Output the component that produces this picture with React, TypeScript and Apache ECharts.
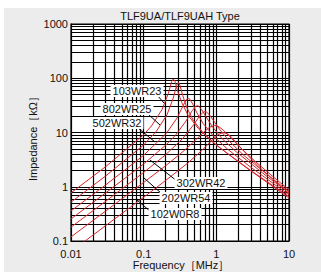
import React, { useEffect, useRef } from "react";
import * as echarts from "echarts";

// Tick labels
const xTickLabels = ["0.01", "0.1", "1", "10"];
const yTickLabels = ["0.1", "1", "10", "100", "1000"];
const xDecades = [0.01, 0.1, 1, 10];
const yDecades = [0.1, 1, 10, 100, 1000];
const minorSteps = [2, 3, 4, 5, 6, 7, 8, 9];

// Curves: frequency [MHz] and impedance [kΩ]
const c1Name = "103WR23";
const c1F = [0.01, 0.03, 0.1, 0.128, 0.179, 0.218, 0.243, 0.256, 0.269, 0.294, 0.333, 0.41, 0.563, 0.896, 1.81, 3, 10];
const c1Z = [0.77, 2.35, 9.1, 13.2, 26.5, 52, 87, 97, 88, 58, 36, 20.6, 11.9, 6.6, 3.2, 1.95, 0.62];

const c2Name = "802WR25";
const c2F = [0.01, 0.03, 0.1, 0.15, 0.21, 0.255, 0.285, 0.3, 0.315, 0.345, 0.39, 0.48, 0.66, 1.05, 3, 10];
const c2Z = [0.52, 1.58, 5.9, 10.6, 21.4, 43, 74, 84, 75, 48, 29.3, 16.9, 9.8, 5.55, 1.98, 0.66];

const c3Name = "502WR32";
const c3F = [0.01, 0.03, 0.1, 0.206, 0.288, 0.349, 0.39, 0.411, 0.432, 0.473, 0.534, 0.658, 0.904, 1.44, 3, 10];
const c3Z = [0.358, 1.08, 3.8, 9.7, 18.5, 31.3, 40.9, 42.6, 41.1, 33.4, 23.8, 14.7, 8.7, 4.87, 2.27, 0.71];

const c4Name = "302WR42";
const c4F = [0.01, 0.03, 0.1, 0.2, 0.274, 0.383, 0.465, 0.52, 0.547, 0.574, 0.629, 0.711, 0.875, 1.2, 1.92, 5, 10];
const c4Z = [0.255, 0.77, 2.63, 5.8, 8.9, 16.3, 25.2, 30.4, 31.2, 30.5, 26.4, 20.1, 13, 7.7, 4.3, 1.54, 0.765];

const c5Name = "202WR54";
const c5F = [0.01, 0.03, 0.1, 0.2, 0.349, 0.489, 0.593, 0.663, 0.698, 0.733, 0.803, 0.907, 1.12, 1.54, 2.44, 5, 10];
const c5Z = [0.18, 0.54, 1.84, 3.87, 7.9, 14, 20.4, 23.8, 24.2, 23.8, 21.2, 16.8, 11.2, 6.7, 3.7, 1.69, 0.81];

const c6Name = "102W0R8";
const c6F = [0.01, 0.03, 0.1, 0.2, 0.35, 0.475, 0.665, 0.808, 0.95, 1.09, 1.235, 1.52, 2.09, 3.33, 6, 10];
const c6Z = [0.119, 0.357, 1.2, 2.43, 4.48, 6.5, 10, 12.5, 13.5, 12.7, 11.2, 8.45, 5.4, 3.04, 1.54, 0.875];

const c7Name = "curve7";
const c7F = [0.01, 0.03, 0.1, 0.2, 0.4, 0.625, 0.875, 1.06, 1.25, 1.44, 1.63, 2, 2.75, 4.38, 10];
const c7Z = [0.064, 0.192, 0.64, 1.3, 2.7, 4.6, 7.2, 9.2, 10, 9.35, 8.1, 5.9, 3.7, 2, 0.75];

const curves = [
  { name: c1Name, f: c1F, z: c1Z },
  { name: c2Name, f: c2F, z: c2Z },
  { name: c3Name, f: c3F, z: c3Z },
  { name: c4Name, f: c4F, z: c4Z },
  { name: c5Name, f: c5F, z: c5Z },
  { name: c6Name, f: c6F, z: c6Z },
  { name: c7Name, f: c7F, z: c7Z },
];

const FONT = '"Liberation Sans", Arial, Helvetica, sans-serif';
const RED = "#d8262c";

function nearestLabel(v: number, decades: number[], labels: string[]) {
  let best = 0;
  let bd = Infinity;
  decades.forEach((d, i) => {
    const diff = Math.abs(Math.log10(v) - Math.log10(d));
    if (diff < bd) {
      bd = diff;
      best = i;
    }
  });
  return bd < 0.01 ? labels[best] : "";
}

export default function App() {
  const ref = useRef<HTMLDivElement>(null);
  useEffect(() => {
    if (!ref.current) return;
    const chart = echarts.init(ref.current, undefined, { renderer: "svg" });

    const xGrid: number[] = [];
    xDecades.forEach((d, i) => {
      xGrid.push(d);
      if (i < xDecades.length - 1) minorSteps.forEach((m) => xGrid.push(d * m));
    });
    const yGrid: number[] = [];
    yDecades.forEach((d, i) => {
      yGrid.push(d);
      if (i < yDecades.length - 1) minorSteps.forEach((m) => yGrid.push(d * m));
    });

    const labelStyle = (text: string, x: number, y: number) => ({
      type: "text",
      z: 100,
      style: {
        text,
        x,
        y,
        fill: "#111",
        font: `11px ${FONT}`,
        align: "center",
        verticalAlign: "middle",
        backgroundColor: "#fff",
        padding: [1, 2, 0, 2],
      },
    });
    const leader = (x1: number, y1: number, x2: number, y2: number) => ({
      type: "line",
      z: 99,
      shape: { x1, y1, x2, y2 },
      style: { stroke: "#000", lineWidth: 1 },
    });

    chart.setOption({
      animation: false,
      backgroundColor: "transparent",
      grid: {
        left: 71,
        right: 32,
        top: 24,
        bottom: 31,
        show: true,
        backgroundColor: "#fff",
        borderColor: "#000",
        borderWidth: 1.2,
      },
      xAxis: {
        type: "log",
        logBase: 10,
        min: 0.01,
        max: 10,
        axisLine: { show: true, lineStyle: { color: "#000" } },
        axisTick: { show: false },
        splitLine: { show: false },
        axisLabel: {
          color: "#111",
          fontSize: 11,
          fontFamily: FONT,
          margin: 7,
          formatter: (v: number) => nearestLabel(v, xDecades, xTickLabels),
        },
      },
      yAxis: {
        type: "log",
        logBase: 10,
        min: 0.1,
        max: 1000,
        axisLine: { show: true, lineStyle: { color: "#000" } },
        axisTick: { show: false },
        splitLine: { show: false },
        axisLabel: {
          color: "#111",
          fontSize: 11,
          fontFamily: FONT,
          margin: 3,
          formatter: (v: number) => nearestLabel(v, yDecades, yTickLabels),
        },
      },
      series: [
        {
          type: "line",
          name: "grid",
          z: 1,
          data: [[0.01, 0.1]],
          showSymbol: false,
          symbol: "none",
          lineStyle: { opacity: 0 },
          silent: true,
          markLine: {
            silent: true,
            symbol: ["none", "none"],
            label: { show: false },
            lineStyle: { color: "#000", width: 1.2, type: "solid" },
            emphasis: { disabled: true },
            data: [
              ...xGrid.map((v) => ({ xAxis: v })),
              ...yGrid.map((v) => ({ yAxis: v })),
            ],
          },
        },
        ...curves.map((c) => ({
          type: "line",
          name: c.name,
          z: 5,
          data: c.f.map((f, i) => [f, c.z[i]]),
          showSymbol: false,
          symbol: "none",
          smooth: false,
          clip: true,
          lineStyle: { color: RED, width: 1 },
        })),
      ],
      graphic: [
        {
          type: "text",
          z: 100,
          style: {
            text: "TLF9UA/TLF9UAH Type",
            x: 180,
            y: 16,
            fill: "#111",
            font: `11px ${FONT}`,
            align: "center",
            verticalAlign: "middle",
          },
        },
        {
          type: "text",
          z: 100,
          style: {
            text: "Frequency［MHz］",
            x: 181,
            y: 265,
            fill: "#111",
            font: `11px ${FONT}`,
            align: "center",
            verticalAlign: "middle",
          },
        },
        {
          type: "text",
          z: 100,
          x: 33,
          y: 136,
          rotation: Math.PI / 2,
          style: {
            text: "Impedance［kΩ］",
            x: 0,
            y: 0,
            fill: "#111",
            font: `11px ${FONT}`,
            align: "center",
            verticalAlign: "middle",
          },
        },
        leader(157, 95, 164, 103),
        leader(148, 114, 160, 125),
        leader(138, 128, 155, 142),
        leader(150, 160, 177, 181),
        leader(144, 178, 161, 193),
        leader(137, 200, 151, 212),
        labelStyle(c1Name, 137, 91),
        labelStyle(c2Name, 127, 109),
        labelStyle(c3Name, 117, 123),
        labelStyle(c4Name, 201, 183),
        labelStyle(c5Name, 186, 198),
        labelStyle(c6Name, 175, 214),
      ],
    });
    return () => chart.dispose();
  }, []);

  return (
    <div style={{ position: "fixed", left: 0, top: 0, width: 321, height: 272, background: "#fff" }}>
      <div style={{ position: "absolute", left: 4, top: 8, right: 0, bottom: 0, background: "#ececec" }} />
      <div ref={ref} style={{ position: "absolute", left: 0, top: 0, width: 321, height: 272 }} />
    </div>
  );
}
